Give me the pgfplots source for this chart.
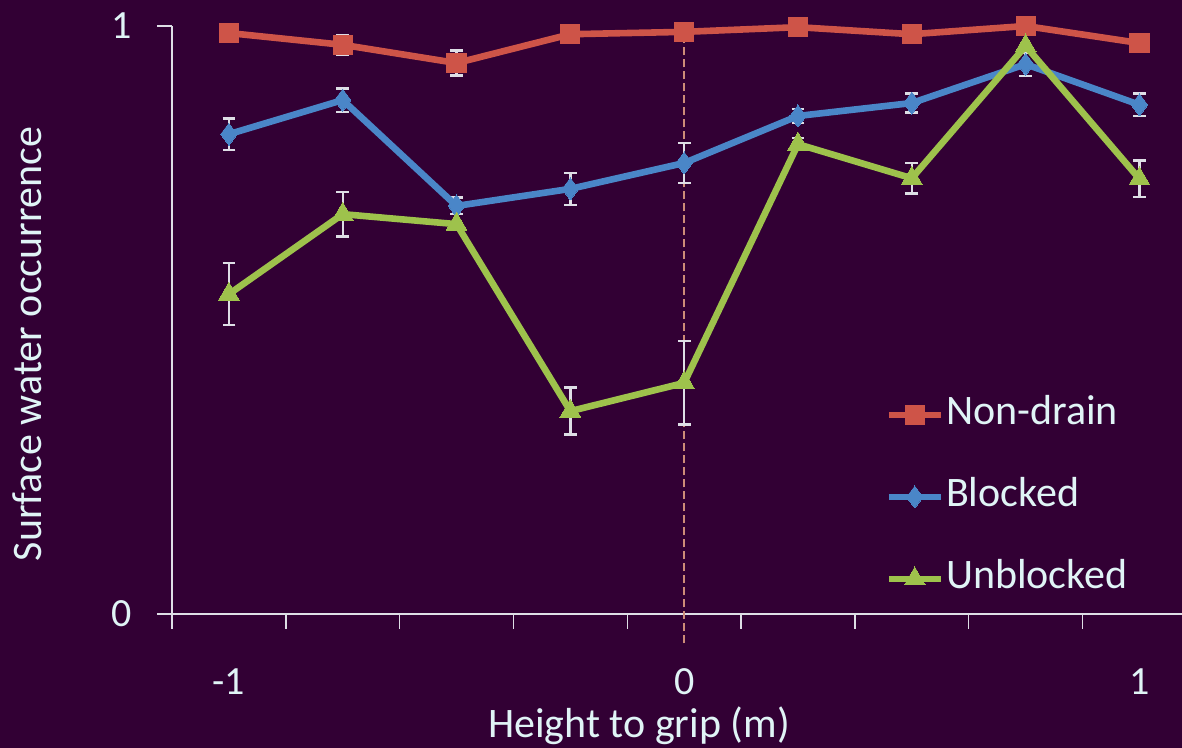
\documentclass[border=0pt]{standalone}
\usepackage{pgfplots}
\pgfplotsset{compat=1.18}
\usepackage{fontspec}
\setmainfont{Carlito}
\definecolor{bg}{RGB}{50,0,52}
\definecolor{txt}{RGB}{224,244,246}
\definecolor{axl}{RGB}{222,222,230}
\definecolor{cred}{RGB}{206,84,72}
\definecolor{cblue}{RGB}{74,134,200}
\definecolor{cgreen}{RGB}{158,194,76}
\definecolor{cdash}{RGB}{205,140,120}

\pgfplotstableread{
x y e
-1 0.988 0.000
-0.75 0.968 0.017
-0.5 0.937 0.021
-0.25 0.986 0.000
0 0.990 0.000
0.25 0.998 0.000
0.5 0.986 0.000
0.75 1.000 0.000
1 0.971 0.000
}\nondrain
\pgfplotstableread{
x y e
-1 0.816 0.027
-0.75 0.874 0.020
-0.5 0.694 0.014
-0.25 0.723 0.027
0 0.767 0.034
0.25 0.847 0.012
0.5 0.869 0.016
0.75 0.935 0.020
1 0.866 0.019
}\blocked
\pgfplotstableread{
x y e
-1 0.544 0.053
-0.75 0.680 0.038
-0.5 0.663 0.000
-0.25 0.345 0.040
0 0.393 0.071
0.25 0.799 0.010
0.5 0.741 0.026
0.75 0.966 0.000
1 0.740 0.031
}\unblocked

\begin{document}
\begin{tikzpicture}
\path[fill=bg, use as bounding box] (-86pt,-67pt) rectangle (505pt,307pt);
\begin{axis}[
  at={(0pt,0pt)}, anchor=south west,
  scale only axis, width=505pt, height=294pt,
  xmin=-1.125, xmax=1.0935, ymin=0, ymax=1,
  axis lines=left, axis line style={-, draw=axl, line width=0.75pt},
  clip=false,
  tick align=outside,
  xtick={-1,0,1}, xticklabels={-1,0,1},
  minor xtick={-1.125,-0.875,-0.625,-0.375,-0.125,0.125,0.375,0.625,0.875},
  major tick length=7.5pt, minor tick length=7.5pt,
  major x tick style={draw=none},
  minor x tick style={draw=axl, line width=0.75pt},
  ytick={0,1}, yticklabels={0,1},
  major y tick style={draw=axl, line width=0.75pt},
  tick label style={text=txt, font=\fontsize{20}{24}\selectfont},
  xticklabel style={anchor=base, inner sep=0pt, yshift=-32.5pt},
  yticklabel style={anchor=east, xshift=-9pt},
  label style={text=txt, font=\fontsize{21}{25}\selectfont},
  xlabel={Height to grip (m)},
  xlabel style={at={(axis description cs:0.4624,-0.2100)}, anchor=base, inner sep=0pt},
  ylabel={Surface water occurrence},
  ylabel style={at={(axis description cs:-0.1430,0.459)}, anchor=center, rotate=0},
  legend style={at={(axis description cs:0.706,0.199)}, anchor=west,
    draw=none, fill=none, text=txt, font=\fontsize{21}{25}\selectfont,
    inner sep=0pt, row sep=21pt, column sep=1pt,
    nodes={inner sep=0pt, text height=15pt, text depth=5pt}},
  legend cell align=left,
  legend image code/.code={\draw[mark repeat=2, mark phase=2, #1] plot coordinates {(0pt,0pt) (13pt,0pt) (26pt,0pt)};},
]
\addplot[cdash, dash pattern=on 4pt off 2pt, line width=0.75pt, forget plot] coordinates {(0,-0.05) (0,1)};

\pgfplotsset{errstyle/.style={forget plot, draw=none, mark=none,
  error bars/.cd, y dir=both, y explicit,
  error bar style={draw=axl, solid, line width=1.2pt},
  error mark options={rotate=90, draw=axl, mark size=3.2pt, line width=1.2pt}}}
\addplot[errstyle] table[x=x, y=y, y error=e] {\nondrain};
\addplot[errstyle] table[x=x, y=y, y error=e] {\blocked};
\addplot[errstyle] table[x=x, y=y, y error=e] {\unblocked};

\addplot[cred, line width=3.3pt, mark=square*, mark size=4.8pt, mark options={solid, line width=0pt}] table[x=x, y=y] {\nondrain};
\addlegendentry{Non-drain}
\addplot[cblue, line width=3.3pt, mark=diamond*, mark size=5.5pt, mark options={solid, line width=0pt}] table[x=x, y=y] {\blocked};
\addlegendentry{Blocked}
\addplot[cgreen, line width=3.3pt, mark=triangle*, mark size=6pt, mark options={solid, line width=0pt}] table[x=x, y=y] {\unblocked};
\addlegendentry{Unblocked}
\end{axis}
\end{tikzpicture}
\end{document}
